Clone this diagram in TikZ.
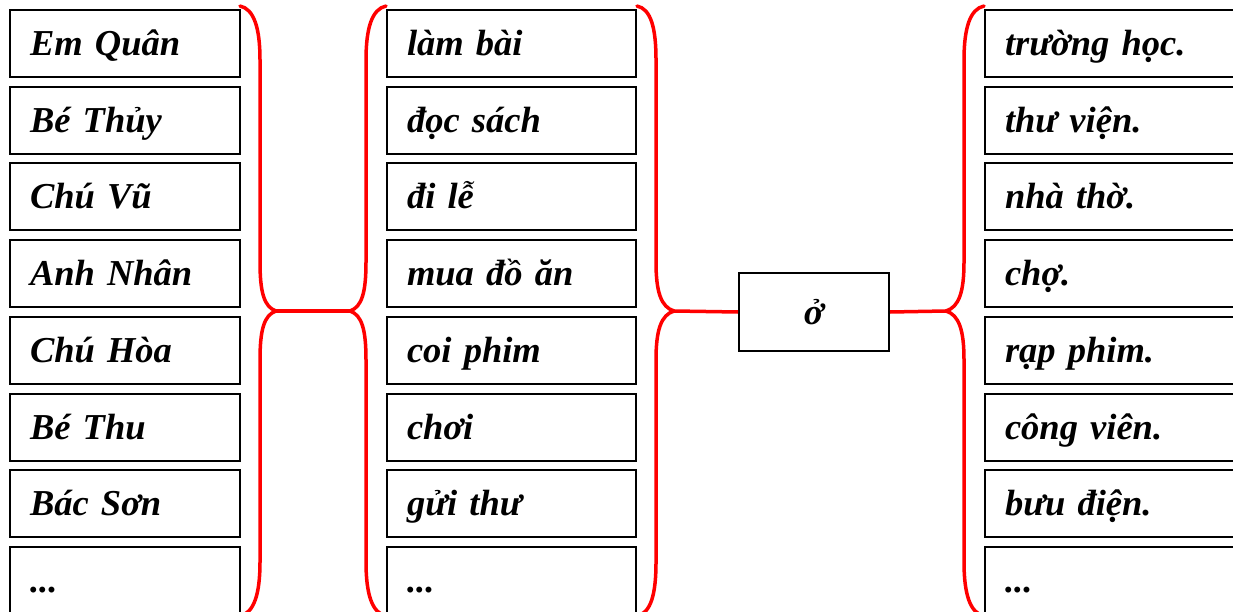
\documentclass[tikz,border=0pt]{standalone}
\usepackage{fontspec}
\setmainfont{Liberation Serif}
\newcommand\mydots{...}
\begin{document}
\begin{tikzpicture}[x=1pt,y=-1pt,
  cell/.style={draw=black,line width=2pt,minimum height=67pt,inner xsep=20pt,inner ysep=0pt,align=left,
    text height=24pt,text depth=0pt,
    font=\fontsize{36.5}{40}\selectfont\bfseries\itshape},
  cellA/.style={cell,text width=190pt},
  cellB/.style={cell,text width=209pt},
  cellC/.style={cell,text width=215pt},
  midbox/.style={draw=black,line width=2pt,minimum width=150pt,minimum height=78pt,inner sep=0pt,
    font=\fontsize{36.5}{40}\selectfont\bfseries\itshape},
  brace/.style={draw=red,line width=3.5pt,line cap=round,line join=round},
  link/.style={draw=red,line width=3.5pt}]
\useasboundingbox (0,0) rectangle (1233,612);
\clip (0,0) rectangle (1233,612);
% column 1
\node[cellA] (a0) at (125,43.5) {Em Quân};
\node[cellA] (a1) at (125,120.2) {Bé Thủy};
\node[cellA] (a2) at (125,196.9) {Chú Vũ};
\node[cellA] (a3) at (125,273.6) {Anh Nhân};
\node[cellA] (a4) at (125,350.3) {Chú Hòa};
\node[cellA] (a5) at (125,427.0) {Bé Thu};
\node[cellA] (a6) at (125,503.7) {Bác Sơn};
\node[cellA] (a7) at (125,580.4) {\mydots};
% column 2
\node[cellB] (b0) at (511.5,43.5) {làm bài};
\node[cellB] (b1) at (511.5,120.2) {đọc sách};
\node[cellB] (b2) at (511.5,196.9) {đi lễ};
\node[cellB] (b3) at (511.5,273.6) {mua đồ ăn};
\node[cellB] (b4) at (511.5,350.3) {coi phim};
\node[cellB] (b5) at (511.5,427.0) {chơi};
\node[cellB] (b6) at (511.5,503.7) {gửi thư};
\node[cellB] (b7) at (511.5,580.4) {\mydots};
% column 3
\node[cellC] (c0) at (1112.5,43.5) {trường học.};
\node[cellC] (c1) at (1112.5,120.2) {thư viện.};
\node[cellC] (c2) at (1112.5,196.9) {nhà thờ.};
\node[cellC] (c3) at (1112.5,273.6) {chợ.};
\node[cellC] (c4) at (1112.5,350.3) {rạp phim.};
\node[cellC] (c5) at (1112.5,427.0) {công viên.};
\node[cellC] (c6) at (1112.5,503.7) {bưu điện.};
\node[cellC] (c7) at (1112.5,580.4) {\mydots};
% middle
\node[midbox] (m) at (814,312) {ở};
% brace tips
\coordinate (t1) at (276,311);
\coordinate (t2) at (350,311);
\coordinate (t3) at (674,311);
\coordinate (t4) at (946,311);
% braces
\draw[brace] (240,6) .. controls (254,9) and (260,28) .. (260,60) -- (260,262)
  .. controls (260,292) and (264,307) .. (t1)
  .. controls (264,315) and (260,330) .. (260,360) -- (260,562)
  .. controls (260,594) and (254,613) .. (240,616);
\draw[brace] (386,6) .. controls (372,9) and (366,28) .. (366,60) -- (366,262)
  .. controls (366,292) and (362,307) .. (t2)
  .. controls (362,315) and (366,330) .. (366,360) -- (366,562)
  .. controls (366,594) and (372,613) .. (386,616);
\draw[brace] (637,6) .. controls (651,9) and (656,28) .. (656,60) -- (656,262)
  .. controls (656,292) and (661,307) .. (t3)
  .. controls (661,315) and (656,330) .. (656,360) -- (656,562)
  .. controls (656,594) and (651,613) .. (637,616);
\draw[brace] (984,6) .. controls (970,9) and (964,28) .. (964,60) -- (964,262)
  .. controls (964,292) and (959,307) .. (t4)
  .. controls (959,315) and (964,330) .. (964,360) -- (964,562)
  .. controls (964,594) and (970,613) .. (984,616);
% links
\draw[link] (t1) -- (t2);
\draw[link] (t3) -- (m.west);
\draw[link] (m.east) -- (t4);
\end{tikzpicture}
\end{document}
